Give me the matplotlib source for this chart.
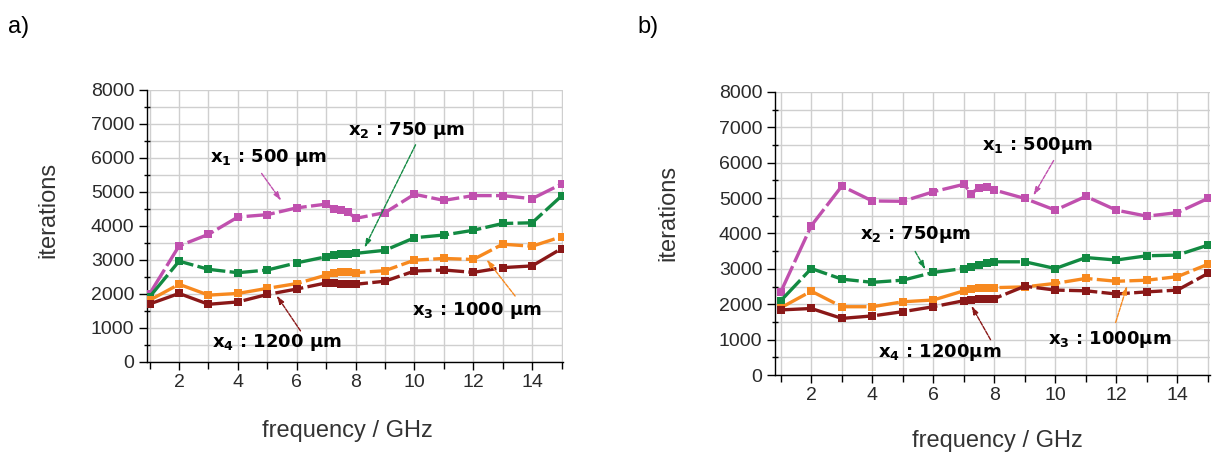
import matplotlib
matplotlib.use("Agg")
import matplotlib.pyplot as plt
from matplotlib.ticker import MultipleLocator

plt.rcParams['font.family'] = ['Liberation Sans', 'DejaVu Sans']
plt.rcParams['mathtext.fontset'] = 'dejavusans'

# ---------------- data panel a ----------------
freq_a = [1, 2, 3, 4, 5, 6, 7, 7.25, 7.5, 7.75, 8, 9, 10, 11, 12, 13, 14, 15]
a_x1 = [2000, 3410, 3750, 4260, 4330, 4530, 4640, 4500, 4460, 4400, 4220, 4390, 4930, 4750, 4890, 4890, 4800, 5230]
a_x2 = [1910, 2960, 2720, 2620, 2700, 2910, 3090, 3150, 3170, 3170, 3190, 3280, 3650, 3730, 3870, 4070, 4090, 4880]
a_x3 = [1810, 2280, 1960, 2010, 2160, 2300, 2550, 2600, 2650, 2640, 2620, 2680, 2990, 3040, 3010, 3460, 3400, 3680]
a_x4 = [1700, 2010, 1690, 1760, 1980, 2140, 2320, 2310, 2300, 2290, 2280, 2370, 2670, 2700, 2630, 2770, 2820, 3330]

# ---------------- data panel b ----------------
freq_b = [1, 2, 3, 4, 5, 6, 7, 7.25, 7.5, 7.75, 8, 9, 10, 11, 12, 13, 14, 15]
b_x1 = [2350, 4220, 5340, 4920, 4910, 5180, 5390, 5130, 5300, 5320, 5230, 4990, 4660, 5050, 4660, 4490, 4590, 4990]
b_x2 = [2100, 3010, 2710, 2620, 2680, 2900, 3010, 3060, 3120, 3170, 3200, 3200, 3010, 3320, 3250, 3370, 3390, 3670]
b_x3 = [1900, 2370, 1930, 1930, 2070, 2120, 2380, 2420, 2450, 2460, 2470, 2490, 2590, 2730, 2650, 2680, 2780, 3130]
b_x4 = [1840, 1880, 1600, 1670, 1790, 1930, 2100, 2130, 2160, 2160, 2160, 2510, 2400, 2380, 2290, 2350, 2400, 2870]

colors = ['#c050ae', '#128a42', '#f7891f', '#8a1818']

labels_a = [r'$\mathbf{x}_\mathbf{1}$ : 500 µm', r'$\mathbf{x}_\mathbf{2}$ : 750 µm',
            r'$\mathbf{x}_\mathbf{3}$ : 1000 µm', r'$\mathbf{x}_\mathbf{4}$ : 1200 µm']
labels_b = [r'$\mathbf{x}_\mathbf{1}$ : 500µm', r'$\mathbf{x}_\mathbf{2}$ : 750µm',
            r'$\mathbf{x}_\mathbf{3}$ : 1000µm', r'$\mathbf{x}_\mathbf{4}$ : 1200µm']

# annotation: (text x, text y, arrow tail, arrow head) in data coords
ann_a = [((3.05, 6020), (4.75, 5610), (5.53, 4670)),
         ((7.75, 6810), (10.08, 6460), (8.26, 3280)),
         ((9.92, 1520), (13.48, 1870), (12.39, 3080)),
         ((3.12, 580), (6.18, 840), (5.26, 2020))]
ann_b = [((7.59, 6490), (9.99, 6130), (9.23, 5000)),
         ((3.61, 3980), (5.36, 3560), (5.79, 2910)),
         ((9.76, 990), (11.95, 1410), (12.38, 2600)),
         ((4.19, 650), (7.92, 930), (7.2, 2030))]

W, H = 1213, 454
fig = plt.figure(figsize=(W / 100, H / 100), dpi=100)


def make_axes(px_left, px_right, px_bottom, px_top):
    return fig.add_axes([px_left / W, 1 - px_bottom / H,
                         (px_right - px_left) / W, (px_bottom - px_top) / H])


def style(ax, xlim):
    ax.set_xlim(*xlim)
    ax.set_ylim(0, 8000)
    ax.xaxis.set_major_locator(MultipleLocator(2))
    ax.xaxis.set_minor_locator(MultipleLocator(1))
    ax.yaxis.set_major_locator(MultipleLocator(1000))
    ax.yaxis.set_minor_locator(MultipleLocator(500))
    ax.grid(True, which='both', color='#cfcfcf', linewidth=1.0)
    ax.set_axisbelow(True)
    for s in ['top', 'right']:
        ax.spines[s].set_visible(False)
    for s in ['left', 'bottom']:
        ax.spines[s].set_color('black')
        ax.spines[s].set_linewidth(1.0)
    ax.tick_params(which='major', direction='out', length=6, width=1,
                   labelsize=14, labelcolor='#2a2a2a', pad=3)
    ax.tick_params(which='minor', direction='inout', length=5, width=1)
    ax.tick_params(axis='x', which='minor', direction='out', length=5)


def draw(ax, freq, series, labels, anns):
    for ys, c in zip(series, colors):
        line, = ax.plot(freq, ys, color=c, linewidth=2.4, marker='s',
                        markersize=5.5, markeredgewidth=0, zorder=3)
        line.set_dashes((8.5, 1.3))
    for (txt_xy, tail, head), lab, c in zip(anns, labels, colors):
        ax.annotate('', xy=head, xytext=tail,
                    arrowprops=dict(arrowstyle='-|>,head_length=0.5,head_width=0.15',
                                    color=c, lw=1.0, linestyle=(0, (3, 1))),
                    zorder=4)
        ax.text(txt_xy[0], txt_xy[1], lab, fontsize=13, fontweight='bold',
                family='DejaVu Sans', color='black', ha='left', va='center', zorder=5)


axa = make_axes(147, 563, 361.7, 90)
style(axa, (0.91, 15.05))
draw(axa, freq_a, [a_x1, a_x2, a_x3, a_x4], labels_a, ann_a)

axb = make_axes(775, 1210, 375, 92)
style(axb, (0.81, 15.07))
draw(axb, freq_b, [b_x1, b_x2, b_x3, b_x4], labels_b, ann_b)

# axis labels
fig.text(48 / W, 1 - 210 / H, 'iterations', rotation=90, fontsize=17,
         color='#333333', ha='center', va='center')
fig.text(347 / W, 1 - 431 / H, 'frequency / GHz', fontsize=17,
         color='#333333', ha='center', va='center')
fig.text(668 / W, 1 - 213 / H, 'iterations', rotation=90, fontsize=17,
         color='#333333', ha='center', va='center')
fig.text(997 / W, 1 - 441 / H, 'frequency / GHz', fontsize=17,
         color='#333333', ha='center', va='center')

# panel letters
fig.text(8 / W, 1 - 27 / H, 'a)', fontsize=17, color='black', ha='left', va='center')
fig.text(637 / W, 1 - 27 / H, 'b)', fontsize=17, color='black', ha='left', va='center')

fig.savefig('out.png', dpi=100)
